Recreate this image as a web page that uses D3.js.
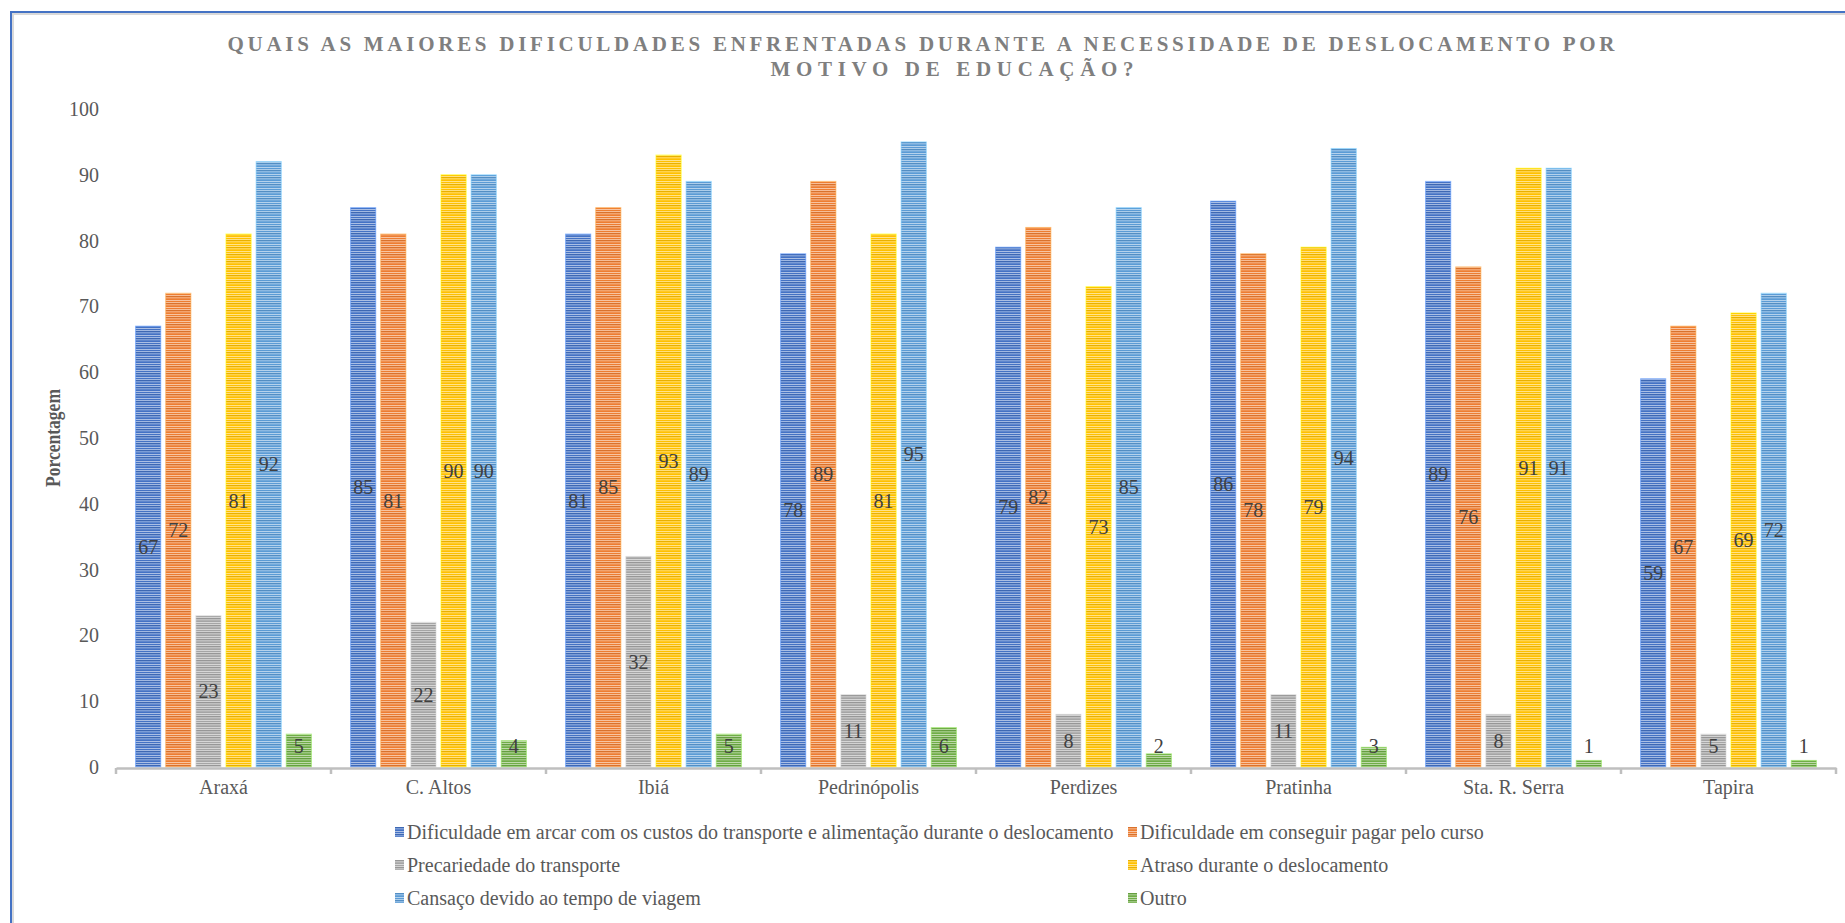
<!DOCTYPE html>
<html>
<head>
<meta charset="utf-8">
<script src="https://cdn.jsdelivr.net/npm/d3@7"></script>
<style>
  body { margin: 0; background: #fff; }
  svg { display: block; font-family: "Liberation Serif", "Times New Roman", serif; }
</style>
</head>
<body>
<div id="chart"></div>
<script>
// ── Data ───────────────────────────────────────────────────────────────────
const cities = ["Araxá", "C. Altos", "Ibiá", "Pedrinópolis", "Perdizes", "Pratinha", "Sta. R. Serra", "Tapira"];

const seriesNames = [
  "Dificuldade em arcar com os custos do transporte e alimentação durante o deslocamento",
  "Dificuldade em conseguir pagar pelo curso",
  "Precariedade do transporte",
  "Atraso durante o deslocamento",
  "Cansaço devido ao tempo de viagem",
  "Outro",
];

const custos       = [67, 85, 81, 78, 79, 86, 89, 59];
const pagarCurso   = [72, 81, 85, 89, 82, 78, 76, 67];
const precariedade = [23, 22, 32, 11, 8, 11, 8, 5];
const atraso       = [81, 90, 93, 81, 73, 79, 91, 69];
const cansaco      = [92, 90, 89, 95, 85, 94, 91, 72];
const outro        = [5, 4, 5, 6, 2, 3, 1, 1];

const yTicks = [0, 10, 20, 30, 40, 50, 60, 70, 80, 90, 100];

const titleLines = [
  "QUAIS AS MAIORES DIFICULDADES ENFRENTADAS DURANTE A NECESSIDADE DE DESLOCAMENTO POR",
  "MOTIVO DE EDUCAÇÃO?",
];

const seriesValues = [custos, pagarCurso, precariedade, atraso, cansaco, outro];
const colors = ["#4472C4", "#ED7D31", "#A5A5A5", "#FFC000", "#5B9BD5", "#70AD47"];

// ── Dimensions ─────────────────────────────────────────────────────────────
const W = 1845, H = 923;
const plot = { left: 116, right: 1836, top: 109, bottom: 767 };
const fs = 20;

const svg = d3.select("#chart").append("svg")
  .attr("width", W).attr("height", H);

// ── Striped fills ──────────────────────────────────────────────────────────
const defs = svg.append("defs");
colors.forEach((c, i) => {
  const p = defs.append("pattern")
    .attr("id", `stripe-${i}`)
    .attr("patternUnits", "userSpaceOnUse")
    .attr("width", 8).attr("height", 7);
  p.append("rect").attr("width", 8).attr("height", 7).attr("fill", c);
  [[1, 0.5], [3, 0.3], [4, 0.15], [6, 0.55]].forEach(([y, o]) => {
    p.append("rect").attr("y", y).attr("width", 8).attr("height", 1)
      .attr("fill", "#fff").attr("opacity", o);
  });
  p.append("rect").attr("y", 2).attr("width", 8).attr("height", 1)
    .attr("fill", d3.color(c).darker(0.25));
});

// ── Border ─────────────────────────────────────────────────────────────────
svg.append("path")
  .attr("d", `M13,${H} V14 H${W}`)
  .attr("fill", "none").attr("stroke", "#d9d9d9").attr("stroke-width", 2);
svg.append("path")
  .attr("d", `M11,${H} V12 H${W}`)
  .attr("fill", "none").attr("stroke", "#4472C4").attr("stroke-width", 2);

// ── Title ──────────────────────────────────────────────────────────────────
const titleX = [921, 952];
const titleWidths = [1387, 363];
titleLines.forEach((t, i) => {
  svg.append("text")
    .attr("x", titleX[i]).attr("y", 51 + i * 25)
    .attr("text-anchor", "middle")
    .attr("font-size", 21).attr("font-weight", "bold")
    .attr("fill", "#7f7f7f")
    .attr("textLength", titleWidths[i])
    .attr("lengthAdjust", "spacing")
    .text(t);
});

// ── Scales ─────────────────────────────────────────────────────────────────
const x0 = d3.scaleBand().domain(cities).range([plot.left, plot.right]).padding(0);
const x1 = d3.scaleBand().domain(d3.range(6)).range([0, x0.bandwidth()])
  .paddingInner(0.165).paddingOuter(0.65);
const y = d3.scaleLinear().domain([0, 100]).range([plot.bottom, plot.top]);

// ── Y axis ─────────────────────────────────────────────────────────────────
const yAxis = svg.append("g")
  .attr("transform", `translate(${plot.left},0)`)
  .call(d3.axisLeft(y).tickValues(yTicks).tickSize(0).tickPadding(17));
yAxis.select(".domain").remove();
yAxis.selectAll("text")
  .attr("font-family", "Liberation Serif").attr("font-size", fs).attr("fill", "#595959");

svg.append("text")
  .attr("transform", `translate(53,${(plot.top + plot.bottom) / 2}) rotate(-90)`)
  .attr("text-anchor", "middle").attr("dominant-baseline", "central")
  .attr("font-size", 20).attr("font-weight", "bold").attr("fill", "#595959")
  .attr("textLength", 98).attr("lengthAdjust", "spacingAndGlyphs")
  .text("Porcentagem");

// ── Bars ───────────────────────────────────────────────────────────────────
const groups = svg.append("g").selectAll("g")
  .data(cities).join("g")
  .attr("transform", (d) => `translate(${x0(d)},0)`);

groups.each(function (city, ci) {
  const g = d3.select(this);
  seriesValues.forEach((vals, si) => {
    const v = vals[ci];
    g.append("rect")
      .attr("x", x1(si)).attr("width", x1.bandwidth())
      .attr("y", y(v)).attr("height", y(0) - y(v))
      .attr("fill", `url(#stripe-${si})`)
      .attr("stroke", d3.color(colors[si]).brighter(0.8))
      .attr("stroke-opacity", 0.6).attr("stroke-width", 1);
  });
  seriesValues.forEach((vals, si) => {
    const v = vals[ci];
    const cy = Math.min((y(v) + y(0)) / 2, y(0) - 21);
    g.append("text")
      .attr("x", x1(si) + x1.bandwidth() / 2).attr("y", cy)
      .attr("text-anchor", "middle").attr("dominant-baseline", "central")
      .attr("font-size", fs).attr("fill", "#404040")
      .text(v);
  });
});

// ── X axis ─────────────────────────────────────────────────────────────────
const xAxis = svg.append("g")
  .attr("transform", `translate(0,${plot.bottom + 1})`)
  .call(d3.axisBottom(x0).tickSize(0).tickPadding(12));
xAxis.select(".domain").attr("stroke", "#bfbfbf").attr("stroke-width", 2.5);
xAxis.selectAll("text")
  .attr("font-family", "Liberation Serif").attr("font-size", fs).attr("fill", "#595959");
const bounds = cities.map((c) => x0(c)).concat([plot.right]);
xAxis.selectAll(".bound").data(bounds).join("line")
  .attr("class", "bound")
  .attr("x1", (d) => d).attr("x2", (d) => d)
  .attr("y1", 0).attr("y2", 6)
  .attr("stroke", "#bfbfbf").attr("stroke-width", 2.5);

// ── Legend ─────────────────────────────────────────────────────────────────
const legendCols = [395, 1128];
const legendRows = [832, 865, 898];
seriesNames.forEach((name, i) => {
  const lg = svg.append("g")
    .attr("transform", `translate(${legendCols[i % 2]},${legendRows[Math.floor(i / 2)]})`);
  lg.append("rect")
    .attr("x", 0).attr("y", -5).attr("width", 9).attr("height", 10)
    .attr("fill", `url(#stripe-${i})`);
  lg.append("text")
    .attr("x", 12).attr("y", 0)
    .attr("dominant-baseline", "central")
    .attr("font-size", fs).attr("fill", "#595959")
    .text(name);
});
</script>
</body>
</html>
